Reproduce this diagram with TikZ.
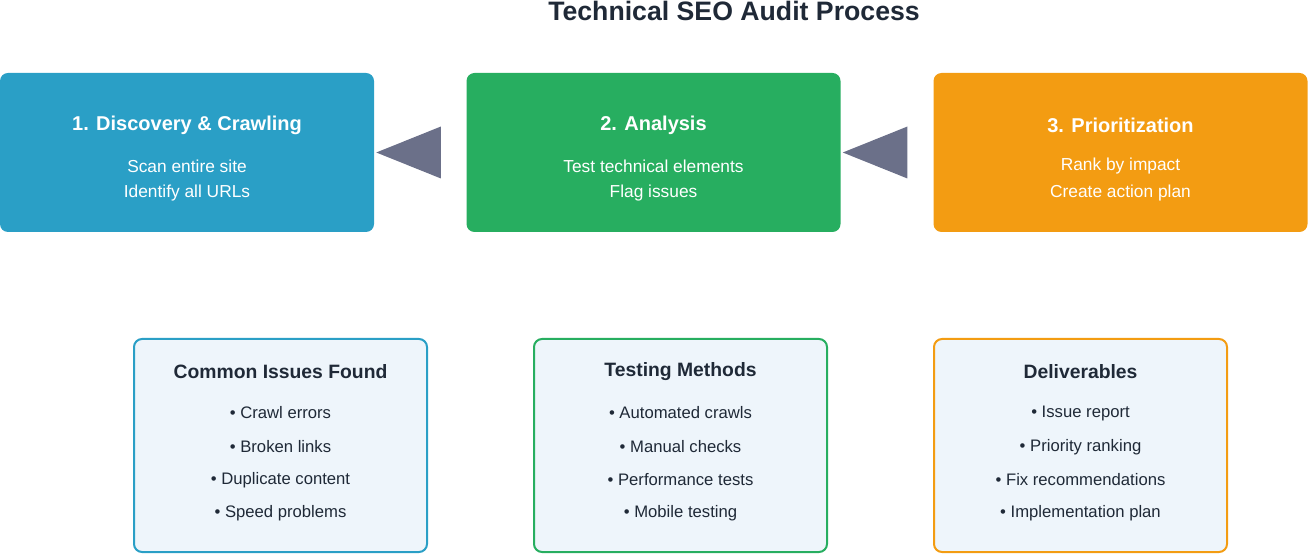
\documentclass[tikz,border=0pt]{standalone}
\usepackage{fontspec}
\setmainfont{Liberation Sans}
\definecolor{cb}{HTML}{2A9FC6}
\definecolor{cg}{HTML}{27AE60}
\definecolor{co}{HTML}{F39C12}
\definecolor{tri}{HTML}{6B7089}
\definecolor{lf}{HTML}{EEF5FB}
\definecolor{txt}{HTML}{1F2937}
\begin{document}
\begin{tikzpicture}[x=0.75pt,y=-0.75pt,
  top/.style={rounded corners=6pt,minimum width=280.5pt,minimum height=119.25pt,text=white,align=center,inner sep=0pt},
  bot/.style={rounded corners=6pt,draw=#1,line width=1.5pt,fill=lf,minimum width=219.75pt,minimum height=159.75pt},
  tt/.style={font=\bfseries\fontsize{15}{18}\selectfont,text=white},
  tb/.style={font=\fontsize{13}{16}\selectfont,text=white,align=center},
  bt/.style={font=\bfseries\fontsize{14.5}{17}\selectfont,text=txt},
  bb/.style={font=\fontsize{12.5}{15}\selectfont,text=txt},
  arr/.style={fill=tri}]
\useasboundingbox (0,0) rectangle (1308,555);
\node[font=\bfseries\fontsize{20}{24}\selectfont,text=txt] (title) at (734,11) {Technical SEO Audit Process};
\node[top,fill=cb] (b1) at (187,152.5) {};
\node[top,fill=cg] (b2) at (653.5,152.5) {};
\node[top,fill=co] (b3) at (1120.5,152.5) {};
\foreach \b/\t/\l/\m in {b1/1. Discovery \& Crawling/Scan entire site/Identify all URLs,
  b2/2. Analysis/Test technical elements/Flag issues,
  b3/3. Prioritization/Rank by impact/Create action plan}{
  \node[tt] (\b t) at ([yshift=0.75*27pt]\b.center) {\t};
  \node[tb] (\b l) at ([yshift=-0.75*14pt]\b.center) {\l};
  \node[tb] (\b m) at ([yshift=-0.75*41pt]\b.center) {\m};
}
\fill[arr] ([xshift=1.5pt]b1.east) -- ([xshift=50pt,yshift=19.5pt]b1.east) -- ([xshift=50pt,yshift=-19.5pt]b1.east) -- cycle;
\fill[arr] ([xshift=1.5pt]b2.east) -- ([xshift=50pt,yshift=19.5pt]b2.east) -- ([xshift=50pt,yshift=-19.5pt]b2.east) -- cycle;
\node[bot=cb] (c1) at (280.5,445.5) {};
\node[bot=cg] (c2) at (680.5,445.5) {};
\node[bot=co] (c3) at (1080.5,445.5) {};
\foreach \c/\t/\a/\b/\d/\e in {c1/Common Issues Found/Crawl errors/Broken links/Duplicate content/Speed problems,
  c2/Testing Methods/Automated crawls/Manual checks/Performance tests/Mobile testing,
  c3/Deliverables/Issue report/Priority ranking/Fix recommendations/Implementation plan}{
  \node[bt] (\c t) at ([yshift=0.75*73.5pt]\c.center) {\t};
  \node[bb] (\c a) at ([yshift=0.75*32.5pt]\c.center) {• \a};
  \node[bb] (\c b) at ([yshift=-0.75*1.5pt]\c.center) {• \b};
  \node[bb] (\c d) at ([yshift=-0.75*34.5pt]\c.center) {• \d};
  \node[bb] (\c e) at ([yshift=-0.75*67.5pt]\c.center) {• \e};
}
\end{tikzpicture}
\end{document}
